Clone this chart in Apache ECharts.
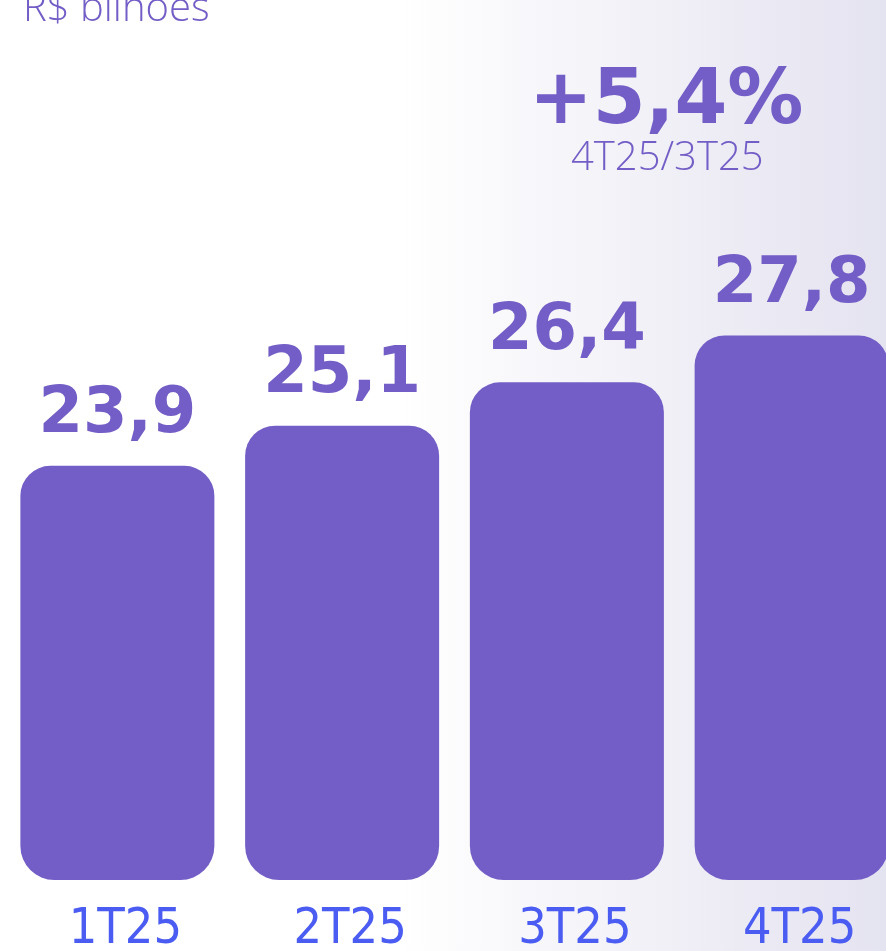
<!DOCTYPE html>
<html>
<head>
<meta charset="utf-8">
<script src="https://cdn.jsdelivr.net/npm/echarts@6/dist/echarts.min.js"></script>
<style>
  html, body { margin: 0; padding: 0; }
  #chart { width: 886px; height: 951px; }
</style>
</head>
<body>
<div id="chart"></div>
<script>
// quarters and revenue (R$ bilhões)
const quarters = ['1T25', '2T25', '3T25', '4T25'];
const values = [23.9, 25.1, 26.4, 27.8];
const valueLabels = ['23,9', '25,1', '26,4', '27,8'];
const growthText = '+5,4%';
const growthSub = '4T25/3T25';
const unitText = 'R$ bilhões';

const purple = '#735DC6';
const blue = '#4A5CF2';

const chart = echarts.init(document.getElementById('chart'));

chart.setOption({
  backgroundColor: {
    type: 'linear', x: 0, y: 0, x2: 1, y2: 0,
    colorStops: [
      { offset: 0, color: '#ffffff' },
      { offset: 0.45, color: '#ffffff' },
      { offset: 1, color: '#E4E3F0' }
    ]
  },
  title: {
    text: unitText,
    left: 18,
    top: -15,
    textStyle: { color: purple, fontSize: 40, fontWeight: 300, fontFamily: 'Open Sans' }
  },
  graphic: [
    {
      type: 'text', left: 529, top: 65,
      style: { text: growthText, fill: purple, font: 'bold 76px "DejaVu Sans"' }
    },
    {
      type: 'text', left: 571, top: 139,
      style: { text: growthSub, fill: purple, font: '300 40px "Open Sans"' }
    }
  ],
  grid: { left: 5, width: 899, top: 40, bottom: 71, outerBoundsMode: 'none' },
  xAxis: {
    type: 'category',
    data: quarters,
    axisLine: { show: false },
    axisTick: { show: false },
    axisLabel: {
      color: blue, fontSize: 50, margin: 25,
      padding: [0, 0, 0, 16],
      fontFamily: 'DejaVu Sans Condensed'
    }
  },
  yAxis: {
    type: 'value', min: 11.5, max: 36.65,
    show: false, splitLine: { show: false }
  },
  series: [{
    type: 'bar',
    data: values,
    barWidth: 194,
    itemStyle: { color: purple, borderRadius: [30, 30, 34, 34] },
    label: {
      show: true,
      position: 'top',
      distance: 18,
      color: purple,
      fontSize: 64,
      fontWeight: 'bold',
      fontFamily: 'DejaVu Sans',
      formatter: p => valueLabels[p.dataIndex]
    }
  }]
});
</script>
</body>
</html>
